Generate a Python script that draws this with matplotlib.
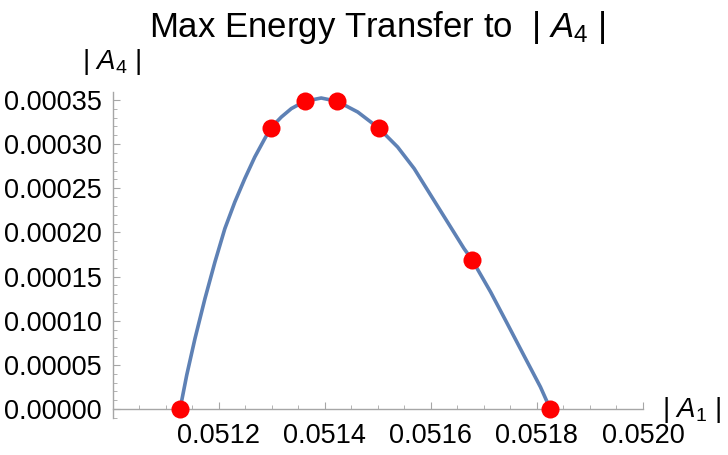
import matplotlib
matplotlib.use("Agg")
import matplotlib.pyplot as plt
from matplotlib.ticker import MultipleLocator, FixedLocator

plt.rcParams['font.family'] = ['Liberation Sans', 'DejaVu Sans']
plt.rcParams['mathtext.fontset'] = 'custom'
plt.rcParams['mathtext.rm'] = 'Liberation Sans'
plt.rcParams['mathtext.it'] = 'Liberation Sans:italic'

# Red sample points
pts_a1 = [0.0511273, 0.0512982, 0.0513621, 0.0514239, 0.0515018, 0.0516783, 0.0518254]
pts_a4 = [0.0, 0.0003182, 0.0003484, 0.0003484, 0.0003182, 0.0001686, 0.0]

# Smooth curve
curve_a1 = [0.0511273, 0.0511399, 0.0511555, 0.0511743, 0.0511931, 0.0512118, 0.0512306,
            0.0512494, 0.0512682, 0.0512870, 0.0512982, 0.0513183, 0.0513371, 0.0513621,
            0.0513934, 0.0514239, 0.0514624, 0.0515018, 0.0515375, 0.0515687, 0.0516000,
            0.0516314, 0.0516626, 0.0516783, 0.0517127, 0.0517441, 0.0517752, 0.0518066,
            0.0518254]
curve_a4 = [0.0, 0.0000385, 0.0000800, 0.0001252, 0.0001666, 0.0002044, 0.0002345,
            0.0002610, 0.0002854, 0.0003062, 0.0003182, 0.0003307, 0.0003402, 0.0003484,
            0.0003522, 0.0003484, 0.0003363, 0.0003182, 0.0002967, 0.0002723, 0.0002421,
            0.0002119, 0.0001818, 0.0001686, 0.0001327, 0.0000969, 0.0000611, 0.0000252,
            0.0]

x_ticks = [0.0512, 0.0514, 0.0516, 0.0518, 0.0520]
x_labels = ["0.0512", "0.0514", "0.0516", "0.0518", "0.0520"]
y_ticks = [0.0, 0.00005, 0.0001, 0.00015, 0.0002, 0.00025, 0.0003, 0.00035]
y_labels = ["0.00000", "0.00005", "0.00010", "0.00015", "0.00020", "0.00025", "0.00030", "0.00035"]

W, H = 728, 455
fig = plt.figure(figsize=(W / 100, H / 100), dpi=100)
L, R, T, B = 112.5, 643, 92, 418
ax = fig.add_axes([L / W, (H - B) / H, (R - L) / W, (B - T) / H])

ax.plot(curve_a1, curve_a4, color='#5E81B5', lw=2.6, solid_capstyle='round',
        solid_joinstyle='round', zorder=2)
ax.plot(pts_a1, pts_a4, 'o', color='#FF0000', ms=13, mec='none', zorder=3, clip_on=False)

ax.set_xlim(0.0510, 0.0520)
ax.set_ylim(-0.00001, 0.000359)

axcol = '#a6a6a6'
for s in ['top', 'right']:
    ax.spines[s].set_visible(False)
ax.spines['bottom'].set_position(('data', 0))
ax.spines['bottom'].set_color(axcol)
ax.spines['left'].set_color(axcol)
ax.spines['bottom'].set_linewidth(1.0)
ax.spines['left'].set_linewidth(1.0)

ax.xaxis.set_major_locator(FixedLocator(x_ticks))
ax.set_xticklabels(x_labels)
ax.xaxis.set_minor_locator(MultipleLocator(0.00005))
ax.yaxis.set_major_locator(FixedLocator(y_ticks))
ax.set_yticklabels(y_labels)
ax.yaxis.set_minor_locator(MultipleLocator(0.00001))

ax.tick_params(axis='both', which='major', direction='in', length=5, width=0.8,
               color=axcol, labelsize=19.5, labelcolor='black')
ax.tick_params(axis='both', which='minor', direction='in', length=3, width=0.6, color=axcol)
ax.tick_params(axis='x', which='major', pad=10)
ax.tick_params(axis='y', which='major', pad=8)

fig.text(377 / W, 1 - 28 / H, "Max Energy Transfer to  | $A_4$ |", ha='center', va='center',
         fontsize=25, color='black')
fig.text(112 / W, 1 - 62 / H, "| $A_4$ |", ha='center', va='center', fontsize=20, color='black')
fig.text(692 / W, 1 - 410 / H, "| $A_1$ |", ha='center', va='center', fontsize=20, color='black')

fig.savefig("out.png", dpi=100)
